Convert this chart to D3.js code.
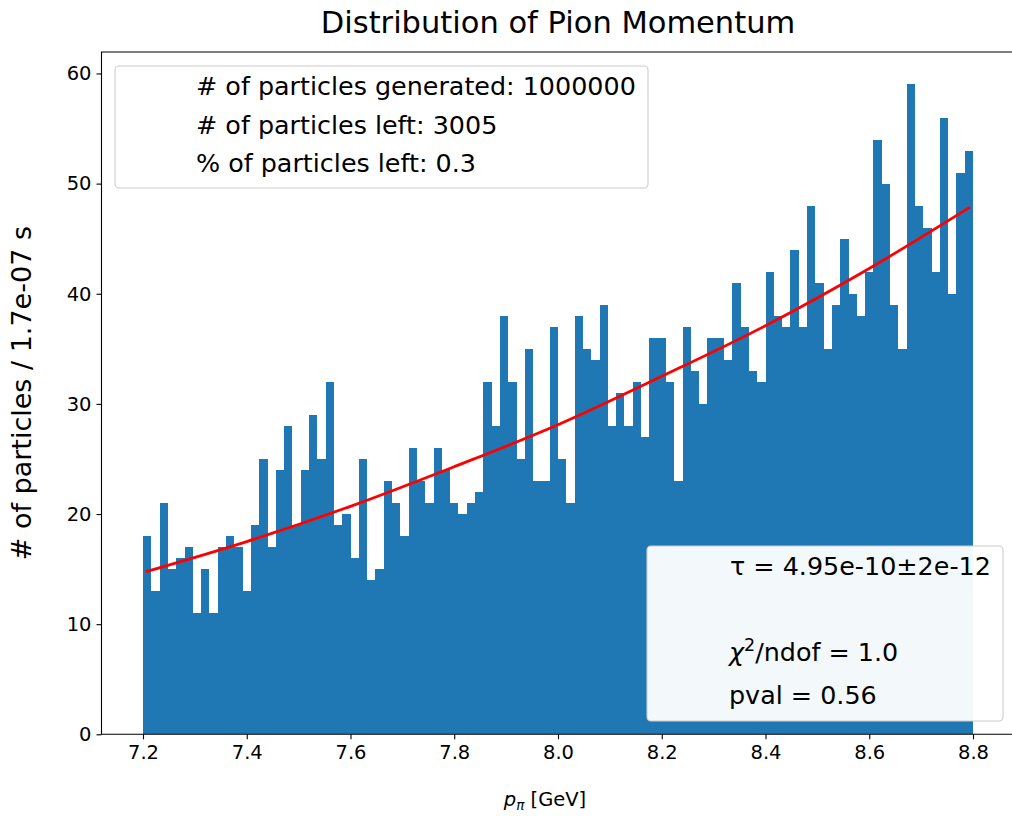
<!DOCTYPE html>
<html>
<head>
<meta charset="utf-8">
<script src="https://cdn.jsdelivr.net/npm/d3@7"></script>
<style>
  html, body { margin: 0; padding: 0; background: #ffffff; }
  svg { display: block; font-family: "DejaVu Sans", sans-serif; }
</style>
</head>
<body>
<svg id="chart" width="1012" height="816"></svg>
<script>
// ---------------- data ----------------
const histRange = [7.2, 8.8];
const counts = [
  18, 13, 21, 15, 16, 17, 11, 15, 11, 17,
  18, 17, 13, 19, 25, 17, 24, 28, 19, 24,
  29, 25, 32, 19, 20, 16, 25, 14, 15, 23,
  21, 18, 26, 23, 21, 26, 24, 21, 20, 21,
  22, 32, 28, 38, 32, 25, 35, 23, 23, 37,
  25, 21, 38, 35, 34, 39, 28, 31, 28, 32,
  27, 36, 36, 32, 23, 37, 33, 30, 36, 36,
  34, 41, 37, 33, 32, 42, 38, 37, 44, 37,
  48, 41, 35, 39, 45, 40, 38, 42, 54, 50,
  39, 35, 59, 48, 46, 42, 56, 40, 51, 53
];
const fitP = [7.208, 7.4, 7.6, 7.8, 8.0, 8.2, 8.4, 8.6, 8.792];
const fitN = [14.8, 17.5, 20.7, 24.3, 28.1, 32.5, 37.1, 42.3, 47.8];
const xTicks = [7.2, 7.4, 7.6, 7.8, 8.0, 8.2, 8.4, 8.6, 8.8];
const yTicks = [0, 10, 20, 30, 40, 50, 60];
const xDomain = [7.12, 8.88];
const yDomain = [0, 61.95];
const titleText = "Distribution of Pion Momentum";
const yLabelText = "# of particles / 1.7e-07 s";
const infoLines = ["# of particles generated: 1000000", "# of particles left: 3005", "% of particles left: 0.3"];
const tauText = "τ = 4.95e-10±2e-12";
const chiValue = "1.0";
const pvalText = "pval = 0.56";

// ---------------- layout ----------------
const L = 101.5, R = 1014.5, T = 52, B = 734.3;
const svg = d3.select("#chart");
const x = d3.scaleLinear().domain(xDomain).range([L, R]);
const y = d3.scaleLinear().domain(yDomain).range([B, T]);
const blue = "#1f77b4";
const tickFont = 19.5, legFont = 25.4;

// bars
const nb = counts.length;
const w = (histRange[1] - histRange[0]) / nb;
const bins = counts.map((c, i) => ({ x0: histRange[0] + i * w, x1: histRange[0] + (i + 1) * w, c }));
svg.append("g").attr("shape-rendering", "crispEdges")
  .selectAll("rect").data(bins).join("rect")
  .attr("x", d => x(d.x0))
  .attr("width", d => x(d.x1) - x(d.x0))
  .attr("y", d => y(d.c))
  .attr("height", d => y(0) - y(d.c))
  .attr("fill", blue);

// fit line
const line = d3.line().x(d => x(d[0])).y(d => y(d[1])).curve(d3.curveMonotoneX);
svg.append("path")
  .datum(fitP.map((p, i) => [p, fitN[i]]))
  .attr("d", line)
  .attr("fill", "none")
  .attr("stroke", "#ff0000")
  .attr("stroke-width", 2.8)
  .attr("stroke-linecap", "square");

// axes
const xAxis = d3.axisBottom(x).tickValues(xTicks).tickFormat(d3.format(".1f"))
  .tickSize(5).tickPadding(5).tickSizeOuter(0);
const gx = svg.append("g").attr("transform", `translate(0,${B})`).call(xAxis);
gx.select(".domain").remove();
gx.selectAll("line").attr("stroke", "#000").attr("stroke-width", 1.1);
gx.selectAll("text").attr("font-size", tickFont).attr("fill", "#000")
  .attr("font-family", "DejaVu Sans").attr("dy", "0.75em");

const yAxis = d3.axisLeft(y).tickValues(yTicks).tickFormat(d3.format("d"))
  .tickSize(5).tickPadding(5).tickSizeOuter(0);
const gy = svg.append("g").attr("transform", `translate(${L},0)`).call(yAxis);
gy.select(".domain").remove();
gy.selectAll("line").attr("stroke", "#000").attr("stroke-width", 1.1);
gy.selectAll("text").attr("font-size", tickFont).attr("fill", "#000")
  .attr("font-family", "DejaVu Sans");

// spines
svg.append("path")
  .attr("d", `M${R},${T}H${L}V${B}H${R}`)
  .attr("fill", "none").attr("stroke", "#000").attr("stroke-width", 1.1);

// title
svg.append("text").attr("x", (L + R) / 2).attr("y", 33)
  .attr("text-anchor", "middle").attr("font-size", 30.5).text(titleText);

// y label
svg.append("text")
  .attr("transform", `translate(31,${(T + B) / 2}) rotate(-90)`)
  .attr("text-anchor", "middle").attr("font-size", 27).text(yLabelText);

// x label
const xl = svg.append("text").attr("x", 545).attr("y", 806)
  .attr("text-anchor", "middle").attr("font-size", tickFont);
xl.append("tspan").attr("font-style", "italic").text("p");
xl.append("tspan").attr("font-style", "italic").attr("font-size", 13.5).attr("dy", 4).text("π");
xl.append("tspan").attr("dy", -4).text(" [GeV]");

// legend 1
const g1 = svg.append("g");
g1.append("rect").attr("x", 115).attr("y", 66).attr("width", 533).attr("height", 122)
  .attr("rx", 4).attr("fill", "#ffffff").attr("fill-opacity", 0.8)
  .attr("stroke", "#cccccc").attr("stroke-width", 1.1);
g1.selectAll("text").data(infoLines).join("text")
  .attr("x", 196).attr("y", (d, i) => 95 + i * 38.5)
  .attr("font-size", legFont).text(d => d);

// legend 2
const g2 = svg.append("g");
g2.append("rect").attr("x", 647).attr("y", 546).attr("width", 356).attr("height", 175)
  .attr("rx", 4).attr("fill", "#ffffff").attr("fill-opacity", 0.95)
  .attr("stroke", "#cccccc").attr("stroke-width", 1.1);
g2.append("text").attr("x", 730).attr("y", 575).attr("font-size", legFont).text(tauText);
const chi = g2.append("text").attr("x", 729).attr("y", 661).attr("font-size", legFont);
chi.append("tspan").attr("font-style", "italic").text("χ");
chi.append("tspan").attr("font-size", 17.5).attr("dy", -10).text("2");
chi.append("tspan").attr("dy", 10).text("/ndof = " + chiValue);
g2.append("text").attr("x", 729).attr("y", 704).attr("font-size", legFont).text(pvalText);
</script>
</body>
</html>
